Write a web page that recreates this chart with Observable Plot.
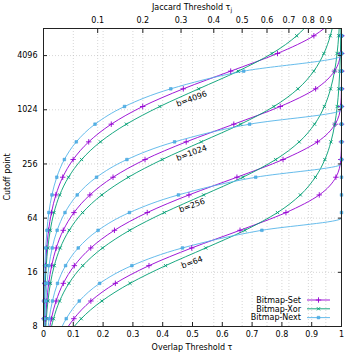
<!DOCTYPE html>
<html><head><meta charset="utf-8">
<script src="https://cdn.jsdelivr.net/npm/d3@7"></script>
<script src="https://cdn.jsdelivr.net/npm/@observablehq/plot@0.6"></script>
<style>
body{margin:0;background:#fff;}
#chart{position:absolute;left:0;top:0;}
</style></head><body><div id="chart"></div>
<script>
// cutoff points (y) at which the curves were sampled (first/last = plot edges)
const cutoffs = [4, 4.885, 7.68, 12.07, 18.98, 29.84, 46.9, 73.8, 115.9, 182.3, 286.6, 450.5, 708.3, 1113.6, 1750, 2752, 4326, 6802, 8192];
const bValues = [64, 256, 1024, 4096];
const bLabels = ["b=64", "b=256", "b=1024", "b=4096"];

// overlap threshold tau read at each cutoff
const setB64   = [0.0829, 0.1019, 0.1589, 0.2411, 0.3540, 0.4974, 0.6595, 0.8136, 0.9254, 0.9812, 0.9976, 0.9999, 1, 1, 1, 1, 1, 1, 1];
const xorB64   = [0.1029, 0.1265, 0.1959, 0.2904, 0.4096, 0.5444, 0.6762, 0.7852, 0.8620, 0.9122, 0.9442, 0.9645, 0.9774, 0.9856, 0.9909, 0.9942, 0.9963, 0.9976, 0.998];
const nextB64  = [0.0625, 0.0763, 0.1200, 0.1886, 0.2966, 0.4663, 0.7328, 1, 1, 1, 1, 1, 1, 1, 1, 1, 1, 1, 1];

const setB256  = [0.0213, 0.0264, 0.0422, 0.0665, 0.1035, 0.1586, 0.2381, 0.3481, 0.4882, 0.6491, 0.8038, 0.9193, 0.9788, 0.9971, 0.9998, 1, 1, 1, 1];
const xorB256  = [0.0269, 0.0336, 0.0542, 0.0854, 0.1317, 0.1983, 0.2893, 0.4053, 0.5375, 0.6690, 0.7792, 0.8581, 0.9096, 0.9425, 0.9634, 0.9767, 0.9852, 0.9906, 0.9922];
const nextB256 = [0.0156, 0.0191, 0.0300, 0.0471, 0.0741, 0.1166, 0.1832, 0.2883, 0.4527, 0.7121, 1, 1, 1, 1, 1, 1, 1, 1, 1];

const setB1024  = [0.0058, 0.0071, 0.0112, 0.0175, 0.0274, 0.0427, 0.0663, 0.1023, 0.1557, 0.2333, 0.3407, 0.4789, 0.6386, 0.7945, 0.9132, 0.9764, 0.9966, 0.9998, 1];
const xorB1024  = [0.0078, 0.0095, 0.0149, 0.0232, 0.0362, 0.0561, 0.0863, 0.1312, 0.1957, 0.2847, 0.3984, 0.5295, 0.6613, 0.7731, 0.8539, 0.9070, 0.9408, 0.9624, 0.9688];
const nextB1024 = [0.0039, 0.0048, 0.0075, 0.0118, 0.0185, 0.0291, 0.0458, 0.0721, 0.1132, 0.1780, 0.2799, 0.4399, 0.6917, 1, 1, 1, 1, 1, 1];

const setB4096  = [0.0015, 0.0018, 0.0028, 0.0044, 0.0069, 0.0109, 0.0170, 0.0267, 0.0415, 0.0645, 0.0995, 0.1517, 0.2275, 0.3329, 0.4692, 0.6281, 0.7852, 0.9073, 0.9415];
const xorB4096  = [0.0020, 0.0024, 0.0037, 0.0059, 0.0092, 0.0144, 0.0226, 0.0352, 0.0545, 0.0840, 0.1278, 0.1910, 0.2782, 0.3904, 0.5208, 0.6532, 0.7668, 0.8497, 0.8750];
const nextB4096 = [0.0010, 0.0012, 0.0019, 0.0029, 0.0046, 0.0073, 0.0115, 0.0180, 0.0283, 0.0445, 0.0700, 0.1100, 0.1729, 0.2719, 0.4272, 0.6719, 1, 1, 1];

const seriesNames  = ["Bitmap-Set", "Bitmap-Xor", "Bitmap-Next"];
const seriesColors = ["#9400d3", "#009e73", "#56b4e9"];
const seriesSymbols = ["plus", "times", "square"];

const xTicks = [0, 0.1, 0.2, 0.3, 0.4, 0.5, 0.6, 0.7, 0.8, 0.9, 1];
const jaccardTicks = [0.1, 0.2, 0.3, 0.4, 0.5, 0.6, 0.7, 0.8, 0.9];
const yTicks = [4, 16, 64, 256, 1024, 4096];
const yTickLabels = ["8", "16", "64", "256", "1024", "4096"];

const table = {
  "Bitmap-Set":  [setB64, setB256, setB1024, setB4096],
  "Bitmap-Xor":  [xorB64, xorB256, xorB1024, xorB4096],
  "Bitmap-Next": [nextB64, nextB256, nextB1024, nextB4096]
};

const lineRows = [], markRows = [];
seriesNames.forEach(s => {
  table[s].forEach((arr, bi) => {
    const b = bValues[bi];
    const key = s + b;
    let pts = cutoffs.map((c, i) => ({series: s, key, c, t: arr[i], i}));
    pts.forEach(p => { if (p.i > 0 && p.i < cutoffs.length - 1) markRows.push(p); });
    if (s === "Bitmap-Next") {
      pts = pts.filter(p => p.t < 1);
      pts.push({series: s, key, c: b, t: 1});
      pts.push({series: s, key, c: cutoffs[cutoffs.length - 1], t: 1});
    }
    lineRows.push(...pts);
  });
});

// Jaccard -> overlap threshold position for the top axis
const jPos = jaccardTicks.map(j => 2 * j / (1 + j));
const jMap = new Map(jPos.map((p, i) => [p, String(jaccardTicks[i])]));
const yMap = new Map(yTicks.map((v, i) => [v, yTickLabels[i]]));

const gridStyle = {stroke: "#bbb", strokeOpacity: 1, strokeDasharray: "1,2", strokeWidth: 0.6};

const plot = Plot.plot({
  width: 355, height: 355,
  marginLeft: 43, marginRight: 14, marginTop: 28, marginBottom: 29,
  style: {fontFamily: "DejaVu Sans", fontSize: "8px", color: "#000", background: "#fff"},
  x: {domain: [0, 1]},
  y: {type: "log", base: 2, domain: [4, 8192]},
  color: {domain: seriesNames, range: seriesColors},
  marks: [
    Plot.gridX(xTicks, gridStyle),
    Plot.gridX(jPos, gridStyle),
    Plot.gridY(yTicks, gridStyle),
    Plot.line(lineRows, {x: "t", y: "c", z: "key", stroke: "series", curve: "monotone-y", strokeWidth: 0.9, clip: true}),
    ...seriesNames.map((s, k) => Plot.dot(markRows.filter(d => d.series === s), {
      x: "t", y: "c", symbol: seriesSymbols[k],
      stroke: k === 2 ? "#3f9fd8" : seriesColors[k],
      fill: k === 2 ? seriesColors[k] : "none",
      r: k === 0 ? 1.9 : k === 1 ? 1.6 : 1.5, strokeWidth: k === 2 ? 0.5 : 0.9
    })),
    Plot.text(
      [{t: 0.4985, c: 20.7, label: bLabels[0]}, {t: 0.4985, c: 88.3, label: bLabels[1]},
       {t: 0.497, c: 339, label: bLabels[2]}, {t: 0.497, c: 1353, label: bLabels[3]}],
      {x: "t", y: "c", text: "label", rotate: -20, fontSize: 8, fill: "#000"}),
    Plot.frame({stroke: "#222", strokeWidth: 1}),
    Plot.axisX(xTicks, {anchor: "bottom", tickSize: -4, tickPadding: 9, tickFormat: d => String(d), label: null, stroke: "#222"}),
    Plot.axisX(jPos, {anchor: "top", tickSize: -4, tickPadding: 10, tickFormat: d => jMap.get(d), label: null, stroke: "#222"}),
    Plot.axisY(yTicks, {anchor: "left", tickSize: -4, tickPadding: 10, tickFormat: d => yMap.get(d), label: null, stroke: "#222"}),
    Plot.axisY(yTicks, {anchor: "right", tickSize: -4, tickFormat: () => "", label: null, stroke: "#222"})
  ]
});

const svg = d3.select(plot);
// axis titles
svg.append("text").attr("x", 192).attr("y", 350).attr("text-anchor", "middle")
  .style("font", "8px 'DejaVu Sans'").text("Overlap Threshold τ");
const topTitle = svg.append("text").attr("x", 192).attr("y", 10).attr("text-anchor", "middle")
  .style("font", "8px 'DejaVu Sans'");
topTitle.append("tspan").text("Jaccard Threshold τ");
topTitle.append("tspan").attr("dy", 2).style("font-size", "6px").text("j");
svg.append("text").attr("transform", "translate(10,177) rotate(-90)").attr("text-anchor", "middle")
  .style("font", "8px 'DejaVu Sans'").text("Cutoff point");

// key
const keyG = svg.append("g");
seriesNames.forEach((s, k) => {
  const y = 300 + k * 8.8;
  keyG.append("text").attr("x", 301).attr("y", y).attr("dy", "0.35em").attr("text-anchor", "end")
    .style("font", "8px 'DejaVu Sans'").text(s);
  keyG.append("line").attr("x1", 307).attr("x2", 330).attr("y1", y).attr("y2", y)
    .attr("stroke", seriesColors[k]).attr("stroke-width", 0.9);
  const sym = [d3.symbolPlus, d3.symbolTimes, d3.symbolSquare][k];
  keyG.append("path").attr("transform", `translate(318.5,${y})`)
    .attr("d", d3.symbol(sym, [11, 8, 7][k])())
    .attr("fill", k === 2 ? seriesColors[k] : "none")
    .attr("stroke", k === 2 ? "#3f9fd8" : seriesColors[k])
    .attr("stroke-width", k === 2 ? 0.5 : 0.9);
});

document.getElementById("chart").appendChild(plot);
</script></body></html>
